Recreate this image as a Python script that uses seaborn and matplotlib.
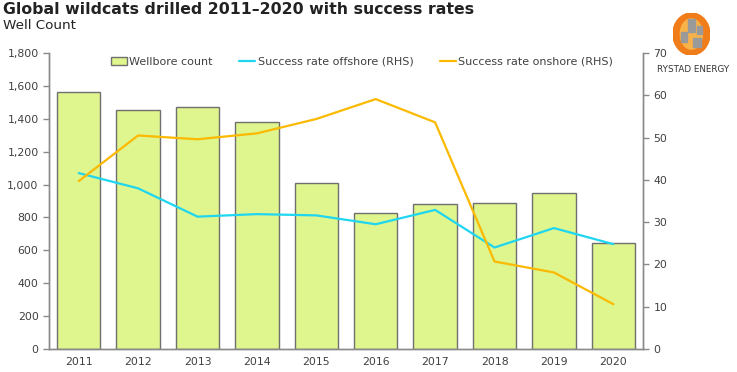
import numpy as np
import pandas as pd
import seaborn as sns
import matplotlib.pyplot as plt
from matplotlib.patches import Patch, Ellipse, Rectangle
from matplotlib.lines import Line2D

years = ["2011", "2012", "2013", "2014", "2015", "2016", "2017", "2018", "2019", "2020"]
wellbore_count = [1563, 1456, 1474, 1381, 1008, 825, 884, 886, 947, 643]
offshore_rate = [41.6, 38.0, 31.3, 31.9, 31.6, 29.5, 32.9, 24.0, 28.6, 24.8]
onshore_rate = [39.7, 50.5, 49.6, 51.0, 54.4, 59.1, 53.6, 20.7, 18.1, 10.6]

df = pd.DataFrame({"year": years, "count": wellbore_count,
                   "offshore": offshore_rate, "onshore": onshore_rate})

sns.set_style("white")
plt.rcParams['font.family'] = ['DejaVu Sans']

bar_color = "#dff58d"
edge_color = "#707070"
cyan = "#1fd6f0"
gold = "#fbb900"
text_color = "#404040"
spine_color = "#8a8a8a"

fig = plt.figure(figsize=(7.37, 3.72), dpi=100)
ax = fig.add_axes([0.0665, 0.0618, 0.806, 0.7957])

sns.barplot(data=df, x="year", y="count", color=bar_color, edgecolor=edge_color,
            linewidth=1.0, width=0.73, saturation=1, ax=ax)
ax.set_xlim(-0.5, 9.5)
ax.set_ylim(0, 1800)
ax.set_yticks(np.arange(0, 1801, 200))
ax.set_yticklabels([f"{v:,}" for v in range(0, 1801, 200)])
ax.set_xlabel("")
ax.set_ylabel("")

ax2 = ax.twinx()
sns.lineplot(data=df, x="year", y="offshore", color=cyan, linewidth=1.6, ax=ax2)
sns.lineplot(data=df, x="year", y="onshore", color=gold, linewidth=1.6, ax=ax2)
ax2.set_ylim(0, 70)
ax2.set_yticks(np.arange(0, 71, 10))
ax2.set_ylabel("")
ax.set_xlim(-0.5, 9.5)

for a in (ax, ax2):
    a.spines["top"].set_visible(False)
    for s in ["left", "right", "bottom"]:
        a.spines[s].set_color(spine_color)
        a.spines[s].set_linewidth(1.0)
    a.tick_params(axis="y", colors=text_color, labelsize=7.8, length=4,
                  width=1, color=spine_color)
    a.tick_params(axis="x", colors=text_color, labelsize=7.8, length=0, pad=6)
ax.tick_params(axis="y", left=True, right=False)
ax2.tick_params(axis="y", right=True, left=False)
for lbl in ax.get_yticklabels() + ax2.get_yticklabels() + ax.get_xticklabels():
    lbl.set_color(text_color)

handles = [Patch(facecolor=bar_color, edgecolor=edge_color, linewidth=1.0),
           Line2D([0], [0], color=cyan, linewidth=1.6),
           Line2D([0], [0], color=gold, linewidth=1.6)]
labels = ["Wellbore count", "Success rate offshore (RHS)", "Success rate onshore (RHS)"]
leg = ax.legend(handles, labels, loc="center left", bbox_to_anchor=(0.104, 0.970),
                ncol=3, frameon=False, fontsize=8.0, handlelength=1.45,
                handletextpad=0.2, columnspacing=2.4, borderaxespad=0, borderpad=0)
for t in leg.get_texts():
    t.set_color(text_color)

fig.text(0.004, 0.995, "Global wildcats drilled 2011\u20132020 with success rates",
         fontsize=11.3, fontweight="bold", color="#222222", va="top", ha="left")
fig.text(0.004, 0.95, "Well Count", fontsize=9.7, color="#222222", va="top", ha="left")

# logo
logo = fig.add_axes([0.913, 0.852, 0.0502, 0.113])
logo.set_xlim(0, 1)
logo.set_ylim(0, 1)
logo.axis("off")
logo.add_patch(Ellipse((0.5, 0.5), 1.0, 1.0, color="#f07c1a"))
logo.add_patch(Ellipse((0.5, 0.5), 0.6, 0.72, color="#f8b24a"))
for (x0, y0, w, h) in [(0.42, 0.55, 0.18, 0.3), (0.55, 0.2, 0.2, 0.2), (0.22, 0.3, 0.15, 0.25),
                       (0.64, 0.5, 0.15, 0.2)]:
    logo.add_patch(Rectangle((x0, y0), w, h, color="#9a9a9a"))
fig.text(0.94, 0.812, "RYSTAD ENERGY", fontsize=6.3, color="#333333", ha="center", va="center")

fig.savefig("out.png", dpi=100)
